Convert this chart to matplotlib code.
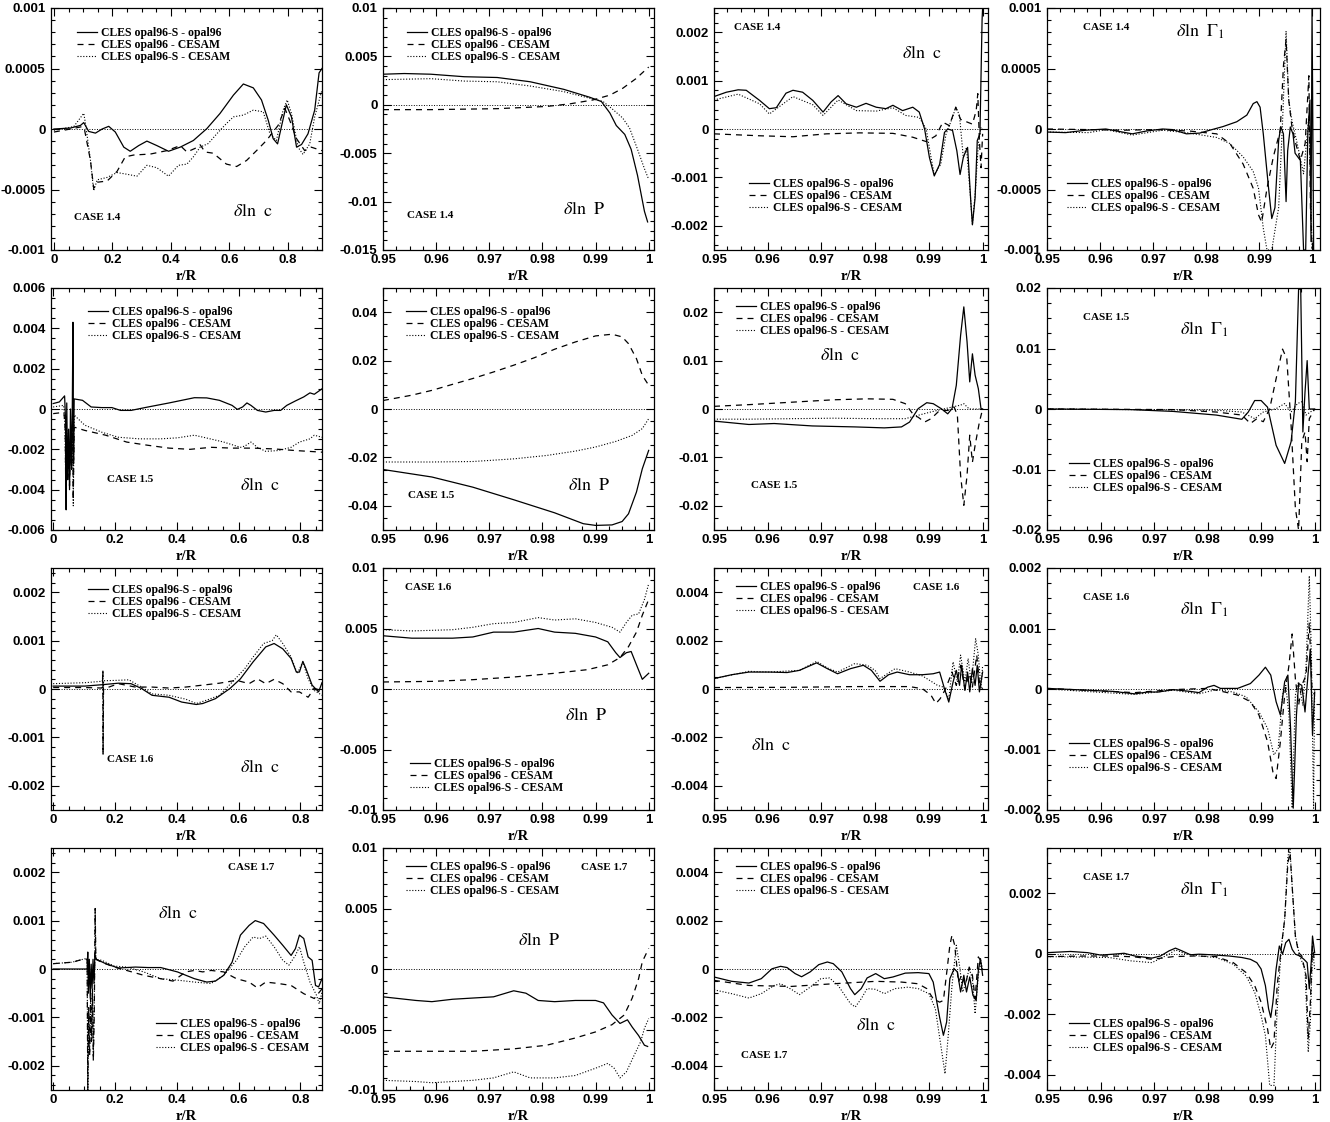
import matplotlib
matplotlib.use("Agg")
import matplotlib.pyplot as plt
from matplotlib.ticker import MultipleLocator, FuncFormatter
from matplotlib.font_manager import FontProperties

plt.rcParams['mathtext.fontset'] = 'stix'

# ---------------------------------------------------------------- data
# series: _s = CLES opal96-S - opal96 (solid), _d = CLES opal96 - CESAM (dashed),
#         _o = CLES opal96-S - CESAM (dotted); points are (r/R, value)

# CASE 1.4
c14_cin_s = [(0, 0), (0.057, 0.000008), (0.091, 0.00003), (0.102, 0.000053), (0.119, -0.00002), (0.142, -0.000034),
             (0.165, 0), (0.1875, 0.000022), (0.21, -0.000025), (0.239, -0.00015), (0.261, -0.000184), (0.29, -0.000137),
             (0.318, -0.0001), (0.352, -0.000137), (0.392, -0.000184), (0.432, -0.00015), (0.477, -0.000095),
             (0.523, 0.000003), (0.568, 0.000128), (0.614, 0.00028), (0.648, 0.000372), (0.682, 0.00034),
             (0.71, 0.00024), (0.733, 0.000073), (0.75, -0.00008), (0.765, -0.000123), (0.778, 0.000017),
             (0.795, 0.0002), (0.8125, 0.0001), (0.83, -0.00015), (0.847, -0.000128), (0.869, -0.00004),
             (0.892, 0.000156), (0.907, 0.000464), (0.917, 0.0005)]
c14_cin_d = [(0, -0.000025), (0.068, 0.000005), (0.097, 0.00002), (0.105, -0.00001), (0.125, -0.00026), (0.136, -0.00049),
             (0.148, -0.00044), (0.182, -0.00043), (0.216, -0.00035), (0.244, -0.00023), (0.273, -0.000215),
             (0.33, -0.000207), (0.386, -0.000179), (0.432, -0.000137), (0.455, -0.00019), (0.483, -0.00016),
             (0.5, -0.00013), (0.517, -0.00019), (0.545, -0.0002), (0.59, -0.00029), (0.625, -0.00031),
             (0.659, -0.00026), (0.693, -0.000179), (0.727, -0.000095), (0.767, 0.00003), (0.79, 0.00017),
             (0.807, 0.00007), (0.83, -0.00008), (0.858, -0.000179), (0.88, -0.00015), (0.917, -0.000179)]
c14_cin_o = [(0, -0.00001), (0.068, 0.00002), (0.102, 0.00013), (0.108, 0.000045), (0.125, -0.00026), (0.136, -0.00051),
             (0.148, -0.00042), (0.182, -0.0004), (0.216, -0.00036), (0.25, -0.000374), (0.284, -0.00039),
             (0.318, -0.0003), (0.352, -0.00032), (0.392, -0.00039), (0.426, -0.0003), (0.455, -0.00029),
             (0.477, -0.00023), (0.5, -0.00015), (0.528, -0.00012), (0.557, -0.00004), (0.59, 0.000045),
             (0.614, 0.0001), (0.648, 0.000115), (0.682, 0.000156), (0.716, 0.000142), (0.739, -0.00004),
             (0.761, -0.000095), (0.784, 0.000156), (0.798, 0.00024), (0.8125, 0.000128), (0.835, -0.00015),
             (0.852, -0.00021), (0.875, -0.000123), (0.892, 0.0001), (0.917, 0.000324)]

c14_p_s = [(0.95, 0.00316), (0.954, 0.00323), (0.959, 0.00316), (0.9653, 0.0029), (0.9715, 0.00282), (0.9777, 0.00238),
           (0.984, 0.0016), (0.9889, 0.00078), (0.9911, 0.00034), (0.9927, -0.00085), (0.9939, -0.00214),
           (0.9955, -0.00306), (0.9967, -0.0046), (0.9979, -0.0073), (0.9992, -0.011), (0.9998, -0.0121)]
c14_p_d = [(0.95, -0.0005), (0.959, -0.0005), (0.9715, -0.0004), (0.9808, -0.00017), (0.9852, 0.0001), (0.9895, 0.0005),
           (0.9927, 0.001), (0.9951, 0.0017), (0.9976, 0.0027), (1.0, 0.0039)]
c14_p_o = [(0.95, 0.0026), (0.959, 0.0027), (0.9653, 0.00245), (0.9715, 0.00238), (0.9777, 0.00194), (0.984, 0.00136),
           (0.9889, 0.00068), (0.9914, 0.00034), (0.9933, -0.0005), (0.9951, -0.00136), (0.9964, -0.0024),
           (0.9979, -0.0046), (0.9992, -0.0066), (1.0, -0.0077)]

c14_cout_s = [(0.95, 0.00067), (0.9523, 0.00076), (0.9545, 0.00081), (0.956, 0.0008), (0.9585, 0.00059), (0.9603, 0.00042),
              (0.9616, 0.00044), (0.9634, 0.00074), (0.9647, 0.0008), (0.9665, 0.00076), (0.9684, 0.00059),
              (0.9703, 0.00035), (0.9718, 0.00056), (0.9731, 0.00069), (0.9746, 0.00052), (0.9765, 0.00045),
              (0.9783, 0.00053), (0.9802, 0.00045), (0.982, 0.00042), (0.9833, 0.00049), (0.9851, 0.00038),
              (0.987, 0.00045), (0.9882, 0.00035), (0.9892, 0), (0.9901, -0.00059), (0.991, -0.00097),
              (0.992, -0.00073), (0.9929, -0.00007), (0.9935, 0), (0.9944, -0.00003), (0.9952, -0.00045),
              (0.9958, -0.00094), (0.9964, -0.00059), (0.9969, -0.00045), (0.9972, -0.00038), (0.9978, -0.0015),
              (0.9981, -0.00198), (0.9986, -0.00142), (0.999, -0.00024), (0.9995, -0.0001), (0.9999, 0.00226),
              (1.0, 0.0025)]
c14_cout_d = [(0.95, -0.0001), (0.9585, -0.00014), (0.9647, -0.00016), (0.9709, -0.0001), (0.9771, -0.00008),
              (0.9833, -0.00009), (0.987, -0.00017), (0.9895, -0.00026), (0.9913, -0.00014), (0.9926, 0.00014),
              (0.9938, 0.00007), (0.995, 0.00045), (0.9959, 0.0002), (0.9972, 0.00014), (0.9981, 0.0001),
              (0.9988, 0.00038), (0.9991, 0.00073), (0.9994, -0.00024), (0.9997, -0.0008), (1.0, -0.0001)]
c14_cout_o = [(0.95, 0.0006), (0.9545, 0.00072), (0.9585, 0.00052), (0.9603, 0.00031), (0.9647, 0.00067), (0.9684, 0.0005),
              (0.9703, 0.00028), (0.9731, 0.0006), (0.9765, 0.00038), (0.9802, 0.00037), (0.9833, 0.00044),
              (0.9857, 0.00028), (0.9882, 0.00024), (0.9895, 0), (0.9904, -0.00059), (0.991, -0.00094),
              (0.9922, -0.00073), (0.9932, -0.0001), (0.9944, 0.00024), (0.995, 0.00045), (0.9957, 0.00028),
              (0.9964, -0.00059), (0.997, -0.00038), (0.9978, -0.0015), (0.9981, -0.00198), (0.9987, -0.0012),
              (0.9992, -0.0003), (0.9997, 0.00003), (1.0, 0)]

c14_g_s = [(0.95, -0.000025), (0.9535, -0.00003), (0.9573, -0.00001), (0.9611, 0), (0.9642, -0.000025), (0.9661, -0.00004),
           (0.9687, -0.000017), (0.9718, 0), (0.9737, -0.000005), (0.9763, -0.00004), (0.9788, -0.000034),
           (0.9807, -0.00001), (0.9832, 0.00002), (0.9858, 0.00006), (0.9877, 0.000115), (0.9889, 0.00021),
           (0.9896, 0.000226), (0.9902, 0.00018), (0.9908, -0.00004), (0.9918, -0.00049), (0.9924, -0.00074),
           (0.993, -0.00065), (0.9937, -0.000095), (0.9941, 0.00002), (0.9946, -0.00004), (0.9951, -0.0006),
           (0.9954, -0.00018), (0.9959, 0.000017), (0.9964, -0.00004), (0.9968, -0.0002), (0.9978, -0.00026),
           (0.9984, -0.001), (0.9988, -0.001), (0.9992, -0.00004), (0.9996, 0.00024), (0.9998, -0.00093),
           (1.0, 0.001), (1.0003, -0.001)]
c14_g_d = [(0.95, 0), (0.9579, -0.000005), (0.9642, -0.00001), (0.9706, -0.000005), (0.9769, -0.000017), (0.982, -0.00004),
           (0.9845, -0.00012), (0.987, -0.00029), (0.9889, -0.00049), (0.9899, -0.00071), (0.9905, -0.00077),
           (0.9915, -0.00049), (0.9927, -0.00023), (0.994, -0.00001), (0.9946, 0.00052), (0.9951, 0.00074),
           (0.9956, 0.00024), (0.9962, 0.00002), (0.9968, -0.0001), (0.9978, -0.00026), (0.9987, -0.00012),
           (0.9994, 0.00044), (0.9997, -0.00065), (1.0, -0.00099)]
c14_g_o = [(0.95, -0.000025), (0.9579, -0.00003), (0.9611, -0.000005), (0.9661, -0.00005), (0.9718, -0.00001),
           (0.9769, -0.000034), (0.982, -0.00007), (0.9845, -0.00012), (0.987, -0.00023), (0.9889, -0.00035),
           (0.9899, -0.00049), (0.9908, -0.00082), (0.9915, -0.001), (0.9924, -0.001), (0.9937, -0.00065),
           (0.9944, 0.00002), (0.9951, 0.00081), (0.9956, 0.00024), (0.9962, 0.00007), (0.9972, -0.00012),
           (0.9984, -0.00037), (0.9994, 0.0001), (1.0, -0.00099)]

# CASE 1.5
c15_cin_s = [(0, 0.00027), (0.02, 0.00035), (0.037, 0.00065), (0.04, -0.0005), (0.042, -0.005), (0.044, 0.0003),
             (0.047, -0.0035), (0.05, -0.001), (0.053, -0.004), (0.056, 0), (0.059, -0.003), (0.062, 0.0002),
             (0.064, 0.0043), (0.066, -0.0025), (0.068, 0.0005), (0.095, 0.00043), (0.123, 0.0001), (0.157, 0.00007),
             (0.19, 0.00007), (0.218, -0.00007), (0.252, -0.00007), (0.307, 0.0001), (0.375, 0.0003),
             (0.416, 0.00043), (0.457, 0.00056), (0.497, 0.00055), (0.538, 0.00043), (0.579, 0.00018),
             (0.596, -0.00002), (0.613, 0.0001), (0.627, 0.0003), (0.64, 0.00018), (0.661, -0.00007),
             (0.688, -0.00015), (0.715, -0.00007), (0.736, -0.00007), (0.756, 0.00018), (0.784, 0.0004),
             (0.811, 0.0006), (0.831, 0.0008), (0.845, 0.00073), (0.87, 0.001)]
c15_cin_d = [(0, -0.00023), (0.027, -0.00018), (0.035, -0.0002), (0.039, -0.001), (0.041, -0.0045), (0.044, -0.0015),
             (0.047, -0.0035), (0.05, -0.002), (0.053, -0.0038), (0.057, -0.0012), (0.06, -0.003), (0.063, -0.0006),
             (0.065, -0.0045), (0.068, -0.0009), (0.102, -0.00106), (0.17, -0.0013), (0.238, -0.00164),
             (0.307, -0.0018), (0.375, -0.00194), (0.443, -0.002), (0.511, -0.0019), (0.579, -0.00194),
             (0.647, -0.00194), (0.715, -0.00198), (0.784, -0.00206), (0.87, -0.00214)]
c15_cin_o = [(0, 0.0001), (0.034, 0.00018), (0.038, -0.0008), (0.041, -0.004), (0.044, -0.001), (0.047, -0.003),
             (0.05, -0.0015), (0.053, -0.0035), (0.057, -0.001), (0.06, -0.0028), (0.063, 0), (0.065, -0.0048),
             (0.068, -0.0003), (0.102, -0.0008), (0.157, -0.00115), (0.211, -0.0014), (0.279, -0.00148),
             (0.348, -0.00148), (0.402, -0.00143), (0.457, -0.0013), (0.497, -0.00144), (0.552, -0.00164),
             (0.606, -0.0019), (0.62, -0.00184), (0.64, -0.00164), (0.661, -0.0019), (0.688, -0.0021),
             (0.729, -0.00206), (0.77, -0.0019), (0.797, -0.00164), (0.831, -0.00148), (0.845, -0.0013),
             (0.87, -0.0014)]

c15_p_s = [(0.95, -0.025), (0.9592, -0.0281), (0.9669, -0.0323), (0.9746, -0.0375), (0.9823, -0.0429), (0.9877, -0.0474),
           (0.99, -0.0481), (0.9931, -0.0479), (0.995, -0.0465), (0.9962, -0.0433), (0.9977, -0.0343),
           (0.9988, -0.0247), (1.0, -0.0171)]
c15_p_d = [(0.95, 0.0035), (0.9554, 0.0057), (0.9592, 0.0077), (0.9631, 0.0102), (0.9669, 0.0126), (0.9708, 0.0153),
           (0.9746, 0.0181), (0.9785, 0.0212), (0.9823, 0.0247), (0.9862, 0.0277), (0.99, 0.0302), (0.9931, 0.0309),
           (0.995, 0.0298), (0.9962, 0.027), (0.9977, 0.0208), (0.9988, 0.0139), (1.0, 0.0098)]
c15_p_o = [(0.95, -0.0219), (0.9592, -0.0219), (0.9669, -0.0217), (0.9746, -0.0206), (0.9808, -0.0192), (0.9862, -0.0174),
           (0.99, -0.0157), (0.9938, -0.0134), (0.9969, -0.0109), (0.9988, -0.0081), (1.0, -0.004)]

c15_cout_s = [(0.95, -0.0025), (0.9565, -0.0032), (0.9612, -0.003), (0.9683, -0.0035), (0.9762, -0.0037), (0.9817, -0.0039),
              (0.9849, -0.0037), (0.9864, -0.0027), (0.988, 0.00007), (0.9896, 0.0013), (0.9908, 0.0011),
              (0.9923, 0.00007), (0.9935, -0.001), (0.9943, 0.00007), (0.9951, 0.0049), (0.9959, 0.0152),
              (0.9965, 0.0211), (0.9971, 0.0139), (0.9976, 0.0056), (0.9981, 0.0114), (0.9986, 0.007),
              (0.9992, 0.0042), (0.9997, 0.00007), (1.0, 0)]
c15_cout_d = [(0.95, 0.00055), (0.9565, 0.0009), (0.9644, 0.0014), (0.9722, 0.0019), (0.9785, 0.0021), (0.9833, 0.002),
              (0.9856, 0.0011), (0.9872, -0.0013), (0.988, -0.0017), (0.9892, -0.0027), (0.9904, -0.002),
              (0.992, -0.0003), (0.9935, -0.0003), (0.9947, 0.0004), (0.9953, -0.0013), (0.9959, -0.0137),
              (0.9965, -0.0199), (0.9971, -0.0137), (0.9976, -0.0054), (0.9981, -0.011), (0.9986, -0.0075),
              (0.9994, -0.0027), (1.0, 0)]
c15_cout_o = [(0.95, -0.0021), (0.9565, -0.0021), (0.9644, -0.002), (0.9722, -0.0019), (0.9801, -0.002), (0.9856, -0.002),
              (0.988, -0.0013), (0.9904, -0.0006), (0.9927, 0), (0.9943, 0.0004), (0.9959, 0.0008), (0.9965, 0.0011),
              (0.9975, 0), (1.0, 0)]

c15_g_s = [(0.95, 0), (0.9656, -0.0001), (0.9736, -0.0004), (0.9816, -0.001), (0.9864, -0.0017), (0.9876, -0.0005),
           (0.9888, 0.0014), (0.99, 0.0014), (0.9912, 0.0003), (0.9928, -0.006), (0.9944, -0.009), (0.9956, -0.0054),
           (0.9964, 0.0012), (0.997, 0.0198), (0.9974, 0.0198), (0.9978, -0.0038), (0.9982, 0.0028),
           (0.9986, 0.008), (0.999, 0), (0.9996, 0), (1.0, 0)]
c15_g_d = [(0.95, 0), (0.9736, -0.0001), (0.9816, -0.0005), (0.9864, -0.001), (0.988, -0.0024), (0.9892, -0.0016),
           (0.9904, -0.0021), (0.9916, 0.00005), (0.9928, 0.005), (0.994, 0.0099), (0.9948, 0.0083),
           (0.9956, -0.0027), (0.9964, -0.0164), (0.997, -0.02), (0.9976, -0.0054), (0.9982, -0.0038),
           (0.9986, -0.0087), (0.999, -0.0016), (1.0, 0)]
c15_g_o = [(0.95, 0), (0.9816, -0.0002), (0.9864, -0.0005), (0.9888, -0.0016), (0.9904, -0.0005), (0.9928, 0.00005),
           (0.9944, 0.0009), (0.9956, -0.0005), (0.9968, 0.0009), (0.9976, 0.0012), (0.9984, -0.001), (1.0, 0)]

# CASE 1.6
c16_cin_s = [(0, 0.00006), (0.102, 0.00006), (0.161, 0.00009), (0.211, 0.00012), (0.252, 0.00011), (0.286, 0.00001),
             (0.32, -0.00013), (0.375, -0.00017), (0.416, -0.00027), (0.463, -0.00032), (0.484, -0.0003),
             (0.525, -0.0002), (0.572, 0.00001), (0.606, 0.00021), (0.647, 0.00056), (0.688, 0.00087),
             (0.715, 0.00094), (0.743, 0.00083), (0.77, 0.00063), (0.787, 0.00035), (0.797, 0.00035),
             (0.808, 0.00057), (0.818, 0.00042), (0.838, 0.00008), (0.859, -0.00006), (0.87, 0.00013)]
c16_cin_d = [(0, 0.00003), (0.102, 0.00003), (0.159, 0.00002), (0.161, 0.00037), (0.1615, -0.00135), (0.163, 0),
             (0.211, 0.00011), (0.266, 0.00004), (0.32, 0.00004), (0.375, 0.00002), (0.429, 0.00004),
             (0.484, 0.00008), (0.538, 0.00012), (0.593, 0.00018), (0.634, 0.00011), (0.661, 0.00021),
             (0.688, 0.00011), (0.715, 0.0002), (0.743, 0.00011), (0.77, -0.00006), (0.797, -0.00006),
             (0.825, -0.00017), (0.845, 0.00001), (0.87, -0.00003)]
c16_cin_o = [(0, 0.00011), (0.102, 0.00013), (0.159, 0.00016), (0.161, 0.00037), (0.1615, -0.00135), (0.163, 0.00017),
             (0.211, 0.00018), (0.245, 0.00019), (0.286, 0.00004), (0.32, -0.0001), (0.375, -0.00013),
             (0.429, -0.00021), (0.463, -0.0003), (0.497, -0.00023), (0.538, -0.00013), (0.579, 0.00014),
             (0.62, 0.00042), (0.647, 0.00066), (0.681, 0.00094), (0.709, 0.001), (0.722, 0.00112),
             (0.743, 0.00094), (0.77, 0.00066), (0.79, 0.00032), (0.808, 0.00056), (0.825, 0.00021),
             (0.845, -0.00003), (0.87, -0.00013)]

c16_p_s = [(0.95, 0.0044), (0.9554, 0.0042), (0.9631, 0.0042), (0.9669, 0.0043), (0.9708, 0.0047), (0.9746, 0.0047),
           (0.9792, 0.005), (0.9823, 0.0047), (0.9862, 0.0046), (0.99, 0.0043), (0.9923, 0.0039), (0.9938, 0.003),
           (0.9946, 0.0026), (0.9958, 0.003), (0.9967, 0.0031), (0.9977, 0.002), (0.9988, 0.0008), (1.0, 0.0013)]
c16_p_d = [(0.95, 0.00058), (0.9592, 0.00063), (0.9669, 0.00077), (0.9746, 0.00099), (0.9823, 0.0013), (0.9885, 0.0016),
           (0.9923, 0.002), (0.9946, 0.0026), (0.9962, 0.0035), (0.9977, 0.0047), (0.9988, 0.0061), (1.0, 0.0074)]
c16_p_o = [(0.95, 0.0049), (0.9554, 0.0048), (0.9631, 0.0049), (0.9669, 0.0051), (0.9708, 0.0054), (0.9746, 0.0055),
           (0.9792, 0.0059), (0.9823, 0.0057), (0.9862, 0.0058), (0.99, 0.0055), (0.9931, 0.0051), (0.9946, 0.0047),
           (0.9958, 0.0055), (0.9969, 0.0061), (0.9981, 0.0062), (0.9992, 0.0074), (1.0, 0.0087)]

c16_cout_s = [(0.95, 0.00043), (0.9533, 0.00059), (0.9565, 0.0007), (0.9604, 0.0007), (0.9636, 0.00068), (0.9659, 0.00077),
              (0.9691, 0.00108), (0.9711, 0.00084), (0.973, 0.00063), (0.9754, 0.00084), (0.9778, 0.00098),
              (0.9793, 0.00077), (0.9809, 0.00032), (0.9825, 0.00059), (0.9841, 0.0007), (0.9864, 0.00059),
              (0.9888, 0.00059), (0.9908, 0.00063), (0.992, 0.0007), (0.9929, 0.00001), (0.9937, -0.00054),
              (0.9945, 0.00029), (0.9951, 0.00077), (0.9957, 0.00015), (0.9961, 0.00098), (0.9967, -0.00006),
              (0.9972, 0.0007), (0.9976, -0.00012), (0.9981, 0.00084), (0.9986, 0.00015), (0.999, 0.00098),
              (0.9994, -0.00012), (1.0, 0.0007)]
c16_cout_d = [(0.95, 0.00006), (0.9644, 0.00007), (0.9762, 0.0001), (0.9864, 0.0001), (0.9888, 0.00001), (0.9904, -0.00026),
              (0.9913, -0.0006), (0.9921, -0.0004), (0.9931, 0), (0.9943, 0.0007), (0.9951, 0.00015), (0.9959, 0.00098),
              (0.9967, 0.00001), (0.9975, 0.00063), (0.9981, 0.00008), (0.9989, 0.0014), (0.9994, 0.00029),
              (1.0, 0.00001)]
c16_cout_o = [(0.95, 0.00043), (0.9565, 0.00073), (0.9604, 0.0007), (0.9659, 0.00077), (0.9691, 0.00114), (0.9711, 0.00087),
              (0.973, 0.0007), (0.9762, 0.00105), (0.9785, 0.00098), (0.98, 0.00077), (0.9809, 0.00043),
              (0.9837, 0.00084), (0.9864, 0.0007), (0.9888, 0.00054), (0.9904, 0.00032), (0.9916, 0.00015),
              (0.9927, 0.00008), (0.9937, -0.0004), (0.9945, 0.00112), (0.9953, 0.00029), (0.9959, 0.0014),
              (0.9967, 0.00029), (0.9973, 0.00126), (0.9979, 0.00022), (0.9987, 0.00208), (0.9992, 0.0014),
              (0.9997, 0.00001), (1.0, 0.00098)]

c16_g_s = [(0.95, 0.00001), (0.9576, -0.00002), (0.9624, -0.00004), (0.9664, -0.00008), (0.9688, -0.00005),
           (0.9708, -0.00005), (0.9736, -0.00001), (0.9768, -0.00004), (0.9784, -0.00006), (0.98, 0.00003),
           (0.9812, 0.00006), (0.9824, 0.00001), (0.9856, 0.00001), (0.988, 0.00009), (0.9896, 0.00023),
           (0.9908, 0.00036), (0.9918, 0.00023), (0.9928, -0.00021), (0.9936, -0.00043), (0.9944, 0.00012),
           (0.995, 0.00023), (0.9955, -0.00065), (0.996, -0.00197), (0.9966, -0.00043), (0.997, 0.00009),
           (0.9976, 0.00006), (0.9982, -0.00038), (0.9988, 0.00028), (0.9992, 0.00066), (0.9996, -0.00076),
           (1.0, -0.00005)]
c16_g_d = [(0.95, 0.00001), (0.9664, -0.00006), (0.9736, -0.00001), (0.98, 0.00001), (0.9832, -0.00005),
           (0.9856, -0.0001), (0.988, -0.00021), (0.9896, -0.00043), (0.9912, -0.00087), (0.9922, -0.00137),
           (0.9928, -0.00148), (0.9936, -0.00087), (0.9944, -0.0001), (0.9952, 0.00039), (0.9958, 0.00091),
           (0.9964, 0.00017), (0.997, -0.00027), (0.9976, 0.00006), (0.9984, 0.00023), (0.999, 0.0011),
           (0.9995, 0), (1.0, -0.0001)]
c16_g_o = [(0.95, 0), (0.9664, -0.00009), (0.9736, -0.00002), (0.9784, -0.00008), (0.9816, -0.00001), (0.9848, -0.00005),
           (0.9872, -0.00013), (0.9896, -0.00038), (0.9912, -0.00065), (0.9924, -0.00109), (0.9932, -0.00098),
           (0.994, -0.0001), (0.9946, 0.00006), (0.9952, -0.00043), (0.9958, -0.00197), (0.9964, -0.0001),
           (0.997, 0.00012), (0.9978, -0.00027), (0.9984, 0.00039), (0.999, 0.00187), (0.9994, 0.00055),
           (0.9998, -0.00197), (1.0, 0)]

# CASE 1.7
c17_cin_s = [(0, 0), (0.102, 0), (0.11, 0), (0.112, 0.00035), (0.114, -0.0005), (0.117, 0.0002), (0.12, -0.0006),
             (0.123, 0.0001), (0.126, -0.0004), (0.129, 0.0002), (0.132, -0.0003), (0.135, 0.0003), (0.14, 0.0002),
             (0.17, 0.00011), (0.211, 0.00002), (0.266, 0.00004), (0.307, 0.00003), (0.348, 0.00003),
             (0.402, -0.00006), (0.457, -0.0002), (0.497, -0.00027), (0.525, -0.00025), (0.552, -0.00013),
             (0.579, 0.00014), (0.606, 0.0007), (0.634, 0.0009), (0.654, 0.001), (0.681, 0.00094), (0.715, 0.0007),
             (0.743, 0.00049), (0.77, 0.00028), (0.784, 0.00042), (0.797, 0.0007), (0.811, 0.00063),
             (0.825, 0.00025), (0.838, 0.00018), (0.849, -0.00034), (0.859, -0.00037), (0.87, -0.0002)]
c17_cin_d = [(0, 0.00011), (0.061, 0.00014), (0.102, 0.00021), (0.11, 0.0002), (0.112, -0.0025), (0.115, -0.0008),
             (0.118, -0.0018), (0.121, -0.0006), (0.124, -0.0015), (0.127, -0.0004), (0.13, -0.0019),
             (0.133, -0.0009), (0.136, 0.00125), (0.138, 0.0002), (0.157, 0.00014), (0.198, 0.00004),
             (0.238, -0.00003), (0.293, -0.00013), (0.348, -0.0002), (0.388, -0.00025), (0.429, -0.00006),
             (0.457, -0.00003), (0.484, -0.00006), (0.511, -0.00003), (0.552, -0.00006), (0.593, -0.0002),
             (0.634, -0.00027), (0.661, -0.00039), (0.688, -0.00027), (0.729, -0.0003), (0.77, -0.00034),
             (0.811, -0.00051), (0.845, -0.00061), (0.87, -0.00041)]
c17_cin_o = [(0, 0.00011), (0.061, 0.00014), (0.102, 0.00021), (0.11, 0.0002), (0.112, -0.0025), (0.115, -0.0009),
             (0.118, -0.0017), (0.121, -0.0007), (0.124, -0.0014), (0.127, -0.0005), (0.13, -0.0018),
             (0.133, -0.0008), (0.136, 0.00125), (0.138, 0.0002), (0.157, 0.00018), (0.198, 0.00006),
             (0.238, 0.00004), (0.293, -0.00006), (0.348, -0.0002), (0.402, -0.00023), (0.457, -0.00027),
             (0.511, -0.0003), (0.552, -0.00013), (0.593, 0.00018), (0.62, 0.00046), (0.647, 0.00066),
             (0.668, 0.00063), (0.688, 0.00068), (0.715, 0.00046), (0.743, 0.00018), (0.763, 0.00008),
             (0.784, 0.00028), (0.797, 0.00046), (0.811, 0.00014), (0.831, -0.00027), (0.852, -0.00054),
             (0.861, -0.00072), (0.87, -0.00048)]

c17_p_s = [(0.95, -0.0023), (0.9562, -0.0026), (0.9592, -0.0027), (0.9631, -0.0025), (0.9669, -0.0024), (0.9708, -0.0023),
           (0.9746, -0.0018), (0.9769, -0.002), (0.9792, -0.0026), (0.9823, -0.0027), (0.9862, -0.0026),
           (0.99, -0.0026), (0.9915, -0.0028), (0.9931, -0.0038), (0.9946, -0.0045), (0.996, -0.0042),
           (0.9969, -0.0048), (0.9981, -0.0055), (0.9992, -0.0063), (0.9998, -0.0064)]
c17_p_d = [(0.95, -0.0068), (0.9592, -0.0068), (0.9669, -0.0068), (0.9746, -0.0066), (0.9808, -0.0063), (0.9862, -0.0057),
           (0.99, -0.0052), (0.9931, -0.0046), (0.9954, -0.0038), (0.9969, -0.0024), (0.9981, -0.0008),
           (0.9988, 0.0006), (1.0, 0.0017)]
c17_p_o = [(0.95, -0.0092), (0.9562, -0.0093), (0.9592, -0.0094), (0.9631, -0.0093), (0.9669, -0.0092), (0.9708, -0.009),
           (0.9746, -0.0085), (0.9777, -0.009), (0.9823, -0.009), (0.9862, -0.0088), (0.99, -0.0082),
           (0.9923, -0.0078), (0.9935, -0.0082), (0.9946, -0.009), (0.9958, -0.0085), (0.9973, -0.0071),
           (0.9985, -0.006), (0.9992, -0.0049), (1.0, -0.0041)]

c17_cout_s = [(0.95, -0.00033), (0.9533, -0.00051), (0.9565, -0.00058), (0.9588, -0.0004), (0.9608, 0.00001),
              (0.9624, 0.00011), (0.9636, 0.00006), (0.9651, -0.00019), (0.9663, -0.00032), (0.9679, -0.00012),
              (0.9695, 0.00018), (0.9711, 0.00029), (0.9722, 0.00022), (0.9738, -0.00012), (0.9754, -0.00081),
              (0.9762, -0.00106), (0.9774, -0.00081), (0.9785, -0.00037), (0.9801, -0.00019), (0.9817, -0.0004),
              (0.9833, -0.00033), (0.9856, -0.00017), (0.988, -0.00015), (0.99, -0.00019), (0.9908, -0.00054),
              (0.992, -0.002), (0.9927, -0.00274), (0.9933, -0.00219), (0.9939, -0.0004), (0.9947, 0.00001),
              (0.9953, -0.00012), (0.9959, -0.00095), (0.9965, -0.00026), (0.997, -0.00095), (0.9976, -0.00033),
              (0.9982, -0.00109), (0.9988, -0.0013), (0.9992, -0.00006), (0.9996, 0.00043), (1.0, -0.00026)]
c17_cout_d = [(0.95, -0.00047), (0.9565, -0.00068), (0.9644, -0.00072), (0.9722, -0.00061), (0.9801, -0.00051),
              (0.9849, -0.00054), (0.988, -0.00061), (0.9896, -0.00081), (0.9908, -0.00123), (0.992, -0.00137),
              (0.9927, -0.0013), (0.9934, 0.00001), (0.9939, 0.00098), (0.9943, 0.0014), (0.9948, 0.00098),
              (0.9955, -0.00054), (0.9961, -0.00026), (0.9968, -0.00068), (0.9975, 0.00008), (0.9981, -0.00026),
              (0.9986, -0.00123), (0.9992, 0.0005), (0.9998, 0.00029)]
c17_cout_o = [(0.95, -0.00086), (0.9533, -0.00102), (0.9565, -0.0012), (0.9588, -0.00102), (0.9612, -0.00068),
              (0.9624, -0.00061), (0.9644, -0.00084), (0.9659, -0.00106), (0.9679, -0.00075), (0.9699, -0.0004),
              (0.9715, -0.00037), (0.9731, -0.00068), (0.9754, -0.00143), (0.9763, -0.00157), (0.9774, -0.00123),
              (0.9785, -0.00081), (0.9801, -0.00084), (0.9817, -0.00102), (0.9837, -0.00081), (0.9861, -0.00075),
              (0.988, -0.00081), (0.99, -0.00102), (0.9912, -0.00164), (0.9924, -0.00343), (0.993, -0.00433),
              (0.9936, -0.00274), (0.9943, -0.00068), (0.9951, 0.00098), (0.9957, 0.00015), (0.9963, -0.00095),
              (0.9969, -0.00054), (0.9975, 0.00001), (0.9981, -0.0004), (0.9986, -0.00185), (0.9992, -0.00026),
              (0.9997, 0.00029), (1.0, 0)]

c17_g_s = [(0.95, 0.00004), (0.9544, 0.00008), (0.9576, 0.00004), (0.96, -0.00004), (0.9624, -0.00001), (0.9644, 0.00002),
           (0.9664, -0.00007), (0.9696, -0.00014), (0.9712, -0.00007), (0.9728, 0.0001), (0.974, 0.00019),
           (0.9752, 0.0001), (0.9768, -0.00003), (0.9784, -0.00001), (0.9808, -0.00003), (0.984, -0.00007),
           (0.9864, -0.00012), (0.988, -0.00018), (0.9892, -0.00029), (0.99, -0.0005), (0.9908, -0.00105),
           (0.9914, -0.00182), (0.9918, -0.0021), (0.9922, -0.0016), (0.9928, -0.0005), (0.9934, 0.00026),
           (0.994, -0.00001), (0.9946, 0.00037), (0.9952, 0.00048), (0.9958, 0.00015), (0.9964, -0.00001),
           (0.9972, -0.00007), (0.998, -0.00018), (0.9986, -0.00029), (0.999, -0.00116), (0.9994, -0.00018),
           (0.9996, 0.00059), (1.0, 0.00004)]
c17_g_d = [(0.95, -0.00009), (0.9576, -0.00007), (0.9624, -0.00007), (0.9664, -0.0001), (0.9696, -0.00018),
           (0.9736, -0.00009), (0.9776, -0.00007), (0.9816, -0.00009), (0.9848, -0.00029), (0.9872, -0.00062),
           (0.9888, -0.00105), (0.99, -0.0016), (0.9912, -0.00248), (0.9918, -0.00314), (0.9924, -0.00292),
           (0.993, -0.00105), (0.9938, 0.00026), (0.9944, 0.00114), (0.995, 0.00301), (0.9954, 0.00334),
           (0.9958, 0.00224), (0.9964, 0.00059), (0.997, 0.00004), (0.9976, -0.00007), (0.9984, -0.00073),
           (0.9988, -0.00281), (0.9992, -0.0016), (0.9996, 0.00026), (1.0, -0.00029)]
c17_g_o = [(0.95, -0.00009), (0.9616, -0.00012), (0.9656, -0.00023), (0.9696, -0.00029), (0.9728, -0.00001),
           (0.974, 0.00013), (0.9756, 0.00002), (0.9784, -0.00007), (0.9816, -0.00012), (0.9848, -0.00034),
           (0.9872, -0.00073), (0.9888, -0.00127), (0.99, -0.00204), (0.9908, -0.0027), (0.9916, -0.00435),
           (0.9924, -0.00435), (0.993, -0.00182), (0.9938, 0.00026), (0.9944, 0.00114), (0.995, 0.00323),
           (0.9954, 0.00345), (0.9958, 0.00224), (0.9964, 0.00059), (0.9972, -0.00007), (0.9982, -0.0005),
           (0.9988, -0.00325), (0.9992, -0.00226), (0.9996, 0.00015), (1.0, -0.0005)]

legend_labels = ["CLES opal96-S - opal96", "CLES opal96 - CESAM", "CLES opal96-S - CESAM"]
case_labels = ["CASE 1.4", "CASE 1.5", "CASE 1.6", "CASE 1.7"]
qty_c = r"$\delta\mathrm{ln}\ \ \mathrm{c}$"
qty_p = r"$\delta\mathrm{ln}\ \ \mathrm{P}$"
qty_g = r"$\delta\mathrm{ln}\ \ \Gamma_1$"

# ---------------------------------------------------------------- layout (figure pixels)
W, H = 1330, 1122
col_left = [51, 383, 714, 1047]
col_width = [271, 271, 274, 273]
row_top = [8, 288, 568, 848]
row_h = 242

# per panel: series, xlim, ylim, y major, y minor, quantity, quantity pos, case pos, legend pos
panels = [
    # row 1 (CASE 1.4)
    [(c14_cin_s, c14_cin_d, c14_cin_o), (-0.01, 0.917), (-0.001, 0.001), 0.0005, 0.0001, qty_c, (233, 211), (74, 217), (77, 33)],
    [(c14_p_s, c14_p_d, c14_p_o), (0.95, 1.001), (-0.015, 0.01), 0.005, 0.001, qty_p, (563, 209), (407, 215), (407, 33)],
    [(c14_cout_s, c14_cout_d, c14_cout_o), (0.95, 1.001), (-0.0025, 0.0025), 0.001, 0.0002, qty_c, (902, 53), (734, 28), (749, 184)],
    [(c14_g_s, c14_g_d, c14_g_o), (0.95, 1.0015), (-0.001, 0.001), 0.0005, 0.0001, qty_g, (1176, 32), (1083, 28), (1067, 184)],
    # row 2 (CASE 1.5)
    [(c15_cin_s, c15_cin_d, c15_cin_o), (-0.007, 0.87), (-0.006, 0.006), 0.002, 0.0005, qty_c, (240, 485), (107, 479), (88, 312)],
    [(c15_p_s, c15_p_d, c15_p_o), (0.95, 1.001), (-0.05, 0.05), 0.02, 0.005, qty_p, (568, 485), (408, 495), (406, 312)],
    [(c15_cout_s, c15_cout_d, c15_cout_o), (0.95, 1.001), (-0.025, 0.025), 0.01, 0.0025, qty_c, (820, 355), (751, 486), (736, 307)],
    [(c15_g_s, c15_g_d, c15_g_o), (0.95, 1.001), (-0.02, 0.02), 0.01, 0.0025, qty_g, (1180, 330), (1083, 318), (1069, 464)],
    # row 3 (CASE 1.6)
    [(c16_cin_s, c16_cin_d, c16_cin_o), (-0.007, 0.87), (-0.0025, 0.0025), 0.001, 0.0002, qty_c, (240, 767), (107, 760), (88, 590)],
    [(c16_p_s, c16_p_d, c16_p_o), (0.95, 1.001), (-0.01, 0.01), 0.005, 0.001, qty_p, (565, 715), (405, 588), (410, 764)],
    [(c16_cout_s, c16_cout_d, c16_cout_o), (0.95, 1.001), (-0.005, 0.005), 0.002, 0.0005, qty_c, (751, 745), (913, 588), (736, 587)],
    [(c16_g_s, c16_g_d, c16_g_o), (0.95, 1.001), (-0.002, 0.002), 0.001, 0.00025, qty_g, (1180, 610), (1083, 598), (1069, 744)],
    # row 4 (CASE 1.7)
    [(c17_cin_s, c17_cin_d, c17_cin_o), (-0.007, 0.87), (-0.0025, 0.0025), 0.001, 0.0002, qty_c, (158, 913), (228, 868), (156, 1024)],
    [(c17_p_s, c17_p_d, c17_p_o), (0.95, 1.001), (-0.01, 0.01), 0.005, 0.001, qty_p, (518, 940), (581, 868), (406, 867)],
    [(c17_cout_s, c17_cout_d, c17_cout_o), (0.95, 1.001), (-0.005, 0.005), 0.002, 0.0005, qty_c, (856, 1025), (741, 1055), (736, 867)],
    [(c17_g_s, c17_g_d, c17_g_o), (0.95, 1.001), (-0.0045, 0.0035), 0.002, 0.0005, qty_g, (1180, 890), (1083, 878), (1069, 1024)],
]

line_styles = [dict(ls='-', lw=0.9), dict(ls=(0, (4.8, 4.0)), lw=0.9), dict(ls=(0, (1, 1.6)), lw=0.8)]

tick_font = FontProperties(family='Liberation Sans', weight='bold', size=9.5)
leg_font = FontProperties(family='Liberation Serif', weight='bold', size=8.5)
case_font = FontProperties(family='Liberation Serif', weight='bold', size=8)
lab_font = FontProperties(family='Liberation Serif', weight='bold', size=10.5)


def fmt(v, pos):
    return '%g' % (round(v, 6) + 0.0)


def fx(px):
    return px / W


def fy(py):
    return 1 - py / H


fig = plt.figure(figsize=(W / 100, H / 100), dpi=100)

for i, (series, xlim, ylim, ymaj, ymin, qty, qpos, cpos, lpos) in enumerate(panels):
    r, c = divmod(i, 4)
    ax = fig.add_axes([fx(col_left[c]), fy(row_top[r] + row_h), col_width[c] / W, row_h / H])
    handles = []
    for pts, st in zip(series, line_styles):
        xs = [p[0] for p in pts]
        ys = [p[1] for p in pts]
        h, = ax.plot(xs, ys, color='k', linestyle=st['ls'], lw=st['lw'])
        handles.append(h)
    ax.axhline(0, color='k', lw=0.7, ls=(0, (1, 1.6)))
    ax.set_xlim(*xlim)
    ax.set_ylim(*ylim)
    if c == 0:
        ax.xaxis.set_major_locator(MultipleLocator(0.2))
        ax.xaxis.set_minor_locator(MultipleLocator(0.05))
    else:
        ax.xaxis.set_major_locator(MultipleLocator(0.01))
        ax.xaxis.set_minor_locator(MultipleLocator(0.0025))
    ax.yaxis.set_major_locator(MultipleLocator(ymaj))
    ax.yaxis.set_minor_locator(MultipleLocator(ymin))
    ax.xaxis.set_major_formatter(FuncFormatter(fmt))
    ax.yaxis.set_major_formatter(FuncFormatter(fmt))
    ax.tick_params(which='both', direction='in', top=True, right=True, width=0.8)
    ax.tick_params(which='major', length=6)
    ax.tick_params(which='minor', length=3)
    ax.tick_params(axis='x', pad=3)
    ax.tick_params(axis='y', pad=4)
    for lab in ax.get_xticklabels() + ax.get_yticklabels():
        lab.set_fontproperties(tick_font)
    for sp in ax.spines.values():
        sp.set_linewidth(0.9)
    ax.set_xlabel("r/R", fontproperties=lab_font, labelpad=3)

    ax.legend(handles, legend_labels, loc='upper left', bbox_to_anchor=(fx(lpos[0]), fy(lpos[1] - 6)),
              bbox_transform=fig.transFigure, frameon=False, borderpad=0, borderaxespad=0,
              handlelength=1.7, handletextpad=0.35, labelspacing=0.02, prop=leg_font)
    fig.text(fx(cpos[0]), fy(cpos[1]), case_labels[r], fontproperties=case_font, ha='left', va='center')
    fig.text(fx(qpos[0]), fy(qpos[1]), qty, fontsize=13, ha='left', va='center')

fig.savefig("out.png", dpi=100)
